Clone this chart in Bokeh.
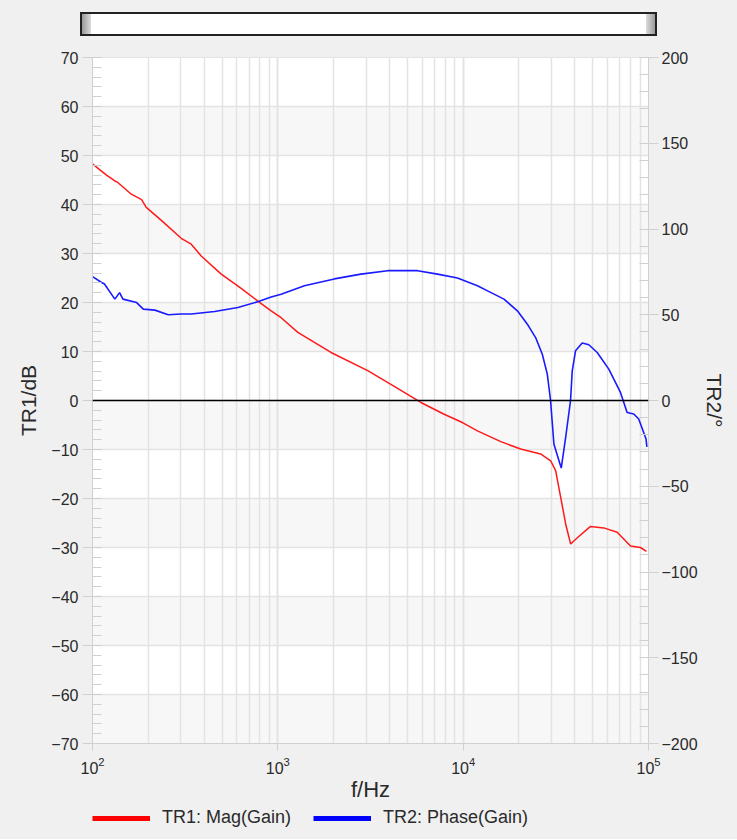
from bokeh.plotting import figure
from bokeh.models import (Range1d, LinearAxis, Legend, LegendItem, Span, BoxAnnotation,
                          SingleIntervalTicker, LogTicker, Div)
from bokeh.layouts import column
from bokeh.embed import file_html
from bokeh.resources import INLINE

# ---------------- data ----------------
mag_freq = [100, 119, 132, 137, 162, 184, 195, 236, 301, 341, 386, 495, 634, 780, 920,
            1042, 1282, 1936, 3055, 4074, 5916, 7889, 9908, 11940, 15960, 20420, 26180,
            29650, 31550, 33570, 35730, 38020, 41300, 48640, 57410, 67760, 79980, 90360, 97500]
mag_db = [48.3, 46.0, 44.8, 44.5, 42.1, 41.0, 39.4, 36.7, 33.1, 31.9, 29.5, 25.8, 22.9, 20.3,
          18.3, 16.9, 13.9, 9.8, 6.1, 3.3, -0.4, -2.8, -4.5, -6.2, -8.4, -9.9, -10.9,
          -12.3, -14.3, -19.7, -25.2, -29.3, -28.0, -25.7, -26.0, -26.9, -29.7, -30.0, -30.8]

ph_freq = [100, 112, 116, 132, 140, 146, 173, 188, 217, 256, 301, 341, 456, 609, 780, 920,
           1042, 1391, 2017, 2809, 3912, 5675, 7271, 9318, 11940, 13790, 16610, 19610, 22200,
           24600, 26730, 28440, 29620, 30870, 32850, 33830, 35680, 37960, 38770, 40390,
           43890, 47640, 52880, 61060, 70590, 76680, 83250, 88550, 97000, 98000]
ph_deg = [72.2, 68.8, 67.9, 59.1, 62.9, 59.1, 57.1, 53.3, 52.7, 50.0, 50.4, 50.4, 51.9, 54.2,
          57.6, 60.4, 62.0, 66.9, 70.9, 73.7, 75.7, 75.7, 73.7, 71.4, 66.9, 63.5, 59.1, 52.3,
          44.5, 36.7, 27.0, 15.4, 0.0, -25.4, -35.0, -39.4, -22.0, 0.0, 17.3, 29.0, 33.5,
          32.5, 28.0, 18.3, 4.7, -7.0, -7.9, -10.8, -22.5, -27.0]

db_ticks = list(range(-70, 71, 10))
deg_ticks = list(range(-200, 201, 50))
legend_labels = ["TR1: Mag(Gain)", "TR2: Phase(Gain)"]

FONT = "Liberation Sans"
TXT = "#2a2a2a"
GRID = "#e3e3e3"
AX = "#d0d0d0"
BG = "#f0f0f0"

# ---------------- scrollbar strip (page chrome) ----------------
bar_html = (
    '<div style="width:737px;height:48px;background:#f0f0f0;position:relative;">'
    '<div style="position:absolute;left:80px;top:12px;width:573px;height:20px;'
    'background:#ffffff;border:2px solid #222222;box-sizing:content-box;">'
    '<div style="position:absolute;left:0;top:0;width:9px;height:100%;'
    'background:linear-gradient(to right,#9a9a9a,#dcdcdc);"></div>'
    '<div style="position:absolute;right:0;top:0;width:9px;height:100%;'
    'background:linear-gradient(to left,#9a9a9a,#dcdcdc);"></div>'
    '</div></div>'
)
bar = Div(text=bar_html, width=737, height=48, margin=0)

# ---------------- main plot ----------------
p = figure(x_axis_type="log", x_range=Range1d(100, 1e5), y_range=Range1d(db_ticks[0], db_ticks[-1]),
           frame_width=556, frame_height=686, min_border_left=92, min_border_right=89,
           min_border_top=9, min_border_bottom=62, output_backend="svg",
           toolbar_location=None, background_fill_color="white",
           border_fill_color=BG, outline_line_color=GRID, margin=0)
p.extra_y_ranges = {"phase": Range1d(deg_ticks[0], deg_ticks[-1])}

for lo in db_ticks[0:-1:2]:
    p.add_layout(BoxAnnotation(bottom=lo, top=lo + 10, fill_color="#f7f7f7", fill_alpha=1.0,
                               line_color=None, level="image"))

# x axis
xa = p.xaxis[0]
xa.ticker = LogTicker(num_minor_ticks=10)
xa.axis_label = "f/Hz"
xa.major_tick_out = 7
xa.major_tick_in = 0
xa.minor_tick_out = 0
xa.minor_tick_in = 0
xa.major_label_standoff = 6
xa.axis_label_standoff = 0

# left axis
ya = p.yaxis[0]
ya.ticker = SingleIntervalTicker(interval=10, num_minor_ticks=5)
ya.axis_label = "TR1/dB"
ya.major_tick_out = 10
ya.major_tick_in = 0
ya.minor_tick_in = 9
ya.minor_tick_out = 0
ya.major_label_standoff = 4
ya.axis_label_standoff = 8

# right axis
ra = LinearAxis(y_range_name="phase", ticker=SingleIntervalTicker(interval=50, num_minor_ticks=5),
                axis_label="TR2/°")
ra.major_tick_out = 10
ra.major_tick_in = 0
ra.minor_tick_in = 9
ra.minor_tick_out = 0
ra.major_label_standoff = 3
ra.axis_label_standoff = 2
p.add_layout(ra, "right")

for ax in [xa, ya, ra]:
    ax.axis_line_color = AX
    ax.major_tick_line_color = AX
    ax.minor_tick_line_color = AX
    ax.major_label_text_font = FONT
    ax.major_label_text_font_size = "16px"
    ax.major_label_text_color = TXT
    ax.axis_label_text_font = FONT
    ax.axis_label_text_font_size = "21px"
    ax.axis_label_text_font_style = "normal"
    ax.axis_label_text_color = TXT
xa.axis_label_text_font_size = "22px"

p.xgrid.grid_line_color = GRID
p.xgrid.grid_line_width = 1.5
p.xgrid.minor_grid_line_color = GRID
p.xgrid.minor_grid_line_width = 1.5
p.ygrid.grid_line_color = GRID
p.ygrid.grid_line_width = 1.5

p.add_layout(Span(location=0, dimension="width", line_color="black", line_width=1.5))

p.line(mag_freq, mag_db, line_color="#ff1a1a", line_width=1.5)
p.line(ph_freq, ph_deg, line_color="#1a1aff", line_width=1.6, y_range_name="phase")

# ---------------- legend strip ----------------
lg = figure(width=737, height=34, x_range=Range1d(0, 1), y_range=Range1d(0, 1),
            min_border=0, min_border_left=92, min_border_right=89,
            toolbar_location=None, output_backend="svg",
            x_axis_location=None, y_axis_location=None,
            background_fill_color=BG, border_fill_color=BG, outline_line_color=None, margin=0)
lg.grid.visible = False
# legend proxies: kept outside the visible range, only their legend swatches show
lr1 = lg.line(x=[-5, -4], y=[-5, -4], line_color="#ff0000", line_width=5)
lr2 = lg.line(x=[-5, -4], y=[-5, -4], line_color="#0000ff", line_width=5)
legend = Legend(items=[LegendItem(label=legend_labels[0], renderers=[lr1]),
                       LegendItem(label=legend_labels[1], renderers=[lr2])],
                orientation="horizontal", location=(0, 11), margin=0, padding=0,
                spacing=22, glyph_width=58, glyph_height=20, label_standoff=12,
                label_text_font=FONT, label_text_font_size="18px", label_text_color=TXT,
                border_line_color=None, background_fill_alpha=0)
lg.add_layout(legend)

layout = column(bar, p, lg, spacing=0, margin=0, styles={"background-color": BG})
open("out.html", "w").write(file_html(layout, INLINE))
